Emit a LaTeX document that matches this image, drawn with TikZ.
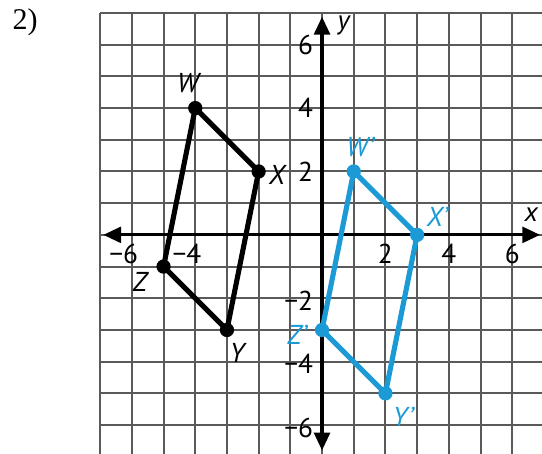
\documentclass[tikz,border=0pt]{standalone}
\usepackage{fontspec}
\usepackage{xcolor}
\usepackage{tikz}
\usetikzlibrary{arrows.meta}
\setsansfont{PT Sans}
\newfontfamily\numfont{Liberation Serif}
\definecolor{gridc}{HTML}{5A5A5A}
\definecolor{imgc}{HTML}{1C9AD6}
\tikzset{
  gl/.style={gridc,line width=1.8pt},
  ax/.style={line width=2.8pt,{Triangle[length=5.6mm,width=5mm]}-{Triangle[length=5.6mm,width=5mm]}},
  edg/.style={line width=4.6pt,line join=round},
  dot/.style={circle,fill,inner sep=0pt,minimum size=4.5mm},
  tk/.style={font=\sffamily\fontsize{24.5}{28}\selectfont,inner sep=0pt},
  vx/.style={font=\sffamily\itshape\fontsize{24.5}{28}\selectfont,inner sep=0pt}
}
\begin{document}
\begin{tikzpicture}
\useasboundingbox (-10.16,-6.91) rectangle (6.94,7.41);
\clip (-10.16,-6.91) rectangle (6.94,7.41);
\node[font=\numfont\fontsize{27}{30}\selectfont] (num) at (-9.37,6.72) {2)};
% grid and axes
\draw[gl] (-7,-7) grid (7,7);
\coordinate (xl) at (-6.9,0);
\coordinate (xr) at (6.88,0);
\coordinate (yb) at (0,-6.8);
\coordinate (yt) at (0,6.88);
\draw[ax] (xl) -- (xr);
\draw[ax] (yb) -- (yt);
\node[vx] (xlab) at (6.6,0.63) {x};
\node[vx] (ylab) at (0.68,6.62) {y};
\foreach \v in {2,4,6}{
  \node[tk,anchor=north] (xt\v) at (\v,-0.27) {\v};
  \node[tk,anchor=east] (yt\v) at (-0.28,\v) {\v};
}
\foreach \v/\n in {-6/m6,-4/m4}{
  \node[tk,anchor=north] (xt\n) at (\v-0.26,-0.27) {−\the\numexpr-\v\relax};
}
\foreach \v/\n in {-2/m2,-4/m4,-6/m6}{
  \node[tk,anchor=east] (yt\n) at (-0.28,\v-0.08) {−\the\numexpr-\v\relax};
}
% preimage WXYZ
\coordinate (W) at (-4,4);
\coordinate (X) at (-2,2);
\coordinate (Y) at (-3,-3);
\coordinate (Z) at (-5,-1);
\draw[edg] (W) -- (X) -- (Y) -- (Z) -- cycle;
\foreach \p in {W,X,Y,Z}{\node[dot] (d\p) at (\p) {};}
\node[vx] (lW) at (-4.23,4.8) {W};
\node[vx] (lX) at (-1.42,1.9) {X};
\node[vx] (lY) at (-2.68,-3.72) {Y};
\node[vx] (lZ) at (-5.74,-1.48) {Z};
% image W'X'Y'Z'
\coordinate (Wp) at (1,2);
\coordinate (Xp) at (3,0);
\coordinate (Yp) at (2,-5);
\coordinate (Zp) at (0,-3);
\draw[edg,imgc] (Wp) -- (Xp) -- (Yp) -- (Zp) -- cycle;
\foreach \p in {Wp,Xp,Yp,Zp}{\node[dot,imgc] (d\p) at (\p) {};}
\node[vx,imgc] (lWp) at (1.2,2.78) {W’};
\node[vx,imgc] (lXp) at (3.63,0.57) {X’};
\node[vx,imgc] (lYp) at (2.56,-5.74) {Y’};
\node[vx,imgc] (lZp) at (-0.79,-3.15) {Z’};
\end{tikzpicture}
\end{document}
